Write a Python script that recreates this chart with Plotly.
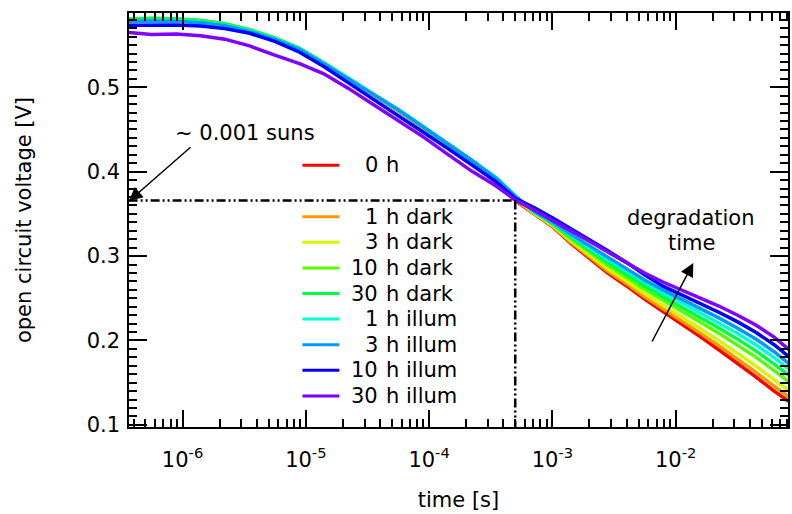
import plotly.graph_objects as go

# Transient open-circuit voltage decay after degradation
time_s = [3.65e-7, 5.6e-7, 8.9e-7, 1.4e-6, 2.2e-6, 3.5e-6, 5.6e-6, 8.9e-6,
          1.4e-5, 2.2e-5, 3.5e-5, 5.6e-5, 8.9e-5, 1.4e-4, 2.2e-4, 3.5e-4,
          5.0e-4, 7.1e-4, 1.0e-3, 1.4e-3, 2.0e-3, 2.8e-3, 4.0e-3, 5.6e-3,
          7.9e-3, 1.12e-2, 1.58e-2, 2.24e-2, 3.16e-2, 4.47e-2, 6.3e-2, 8.4e-2]

voc_0h = [0.5795, 0.5805, 0.5800, 0.5780, 0.5740, 0.5672, 0.5575, 0.5452,
          0.5282, 0.5100, 0.4908, 0.4722, 0.4518, 0.4318, 0.4115, 0.3875,
          0.3660, 0.3500, 0.3350, 0.3155, 0.2966, 0.2800, 0.2646, 0.2490,
          0.2344, 0.2200, 0.2046, 0.1890, 0.1736, 0.1570, 0.1400, 0.1271]
voc_1h_dark = [0.5798, 0.5808, 0.5803, 0.5783, 0.5743, 0.5675, 0.5578, 0.5455,
               0.5285, 0.5103, 0.4911, 0.4725, 0.4522, 0.4322, 0.4120, 0.3885,
               0.3675, 0.3504, 0.3357, 0.3168, 0.2985, 0.2823, 0.2671, 0.2518,
               0.2375, 0.2236, 0.2087, 0.1937, 0.1787, 0.1625, 0.1458, 0.1326]
voc_3h_dark = [0.5800, 0.5810, 0.5805, 0.5786, 0.5746, 0.5678, 0.5580, 0.5458,
               0.5288, 0.5106, 0.4913, 0.4728, 0.4525, 0.4326, 0.4125, 0.3895,
               0.3685, 0.3509, 0.3366, 0.3185, 0.3010, 0.2853, 0.2704, 0.2555,
               0.2417, 0.2284, 0.2142, 0.1999, 0.1855, 0.1699, 0.1534, 0.1400]
voc_10h_dark = [0.5808, 0.5818, 0.5812, 0.5792, 0.5750, 0.5680, 0.5583, 0.5460,
                0.5290, 0.5108, 0.4915, 0.4732, 0.4530, 0.4333, 0.4135, 0.3915,
                0.3700, 0.3517, 0.3379, 0.3210, 0.3045, 0.2895, 0.2750, 0.2608,
                0.2477, 0.2351, 0.2220, 0.2087, 0.1951, 0.1803, 0.1643, 0.1505]
voc_30h_dark = [0.5805, 0.5815, 0.5810, 0.5790, 0.5752, 0.5682, 0.5585, 0.5462,
                0.5292, 0.5110, 0.4918, 0.4735, 0.4532, 0.4335, 0.4138, 0.3920,
                0.3708, 0.3523, 0.3388, 0.3228, 0.3071, 0.2925, 0.2783, 0.2645,
                0.2519, 0.2399, 0.2275, 0.2149, 0.2019, 0.1877, 0.1720, 0.1579]
voc_1h_illum = [0.5785, 0.5792, 0.5790, 0.5772, 0.5735, 0.5668, 0.5574, 0.5455,
                0.5288, 0.5110, 0.4922, 0.4740, 0.4540, 0.4342, 0.4145, 0.3930,
                0.3715, 0.3528, 0.3397, 0.3245, 0.3096, 0.2955, 0.2816, 0.2682,
                0.2560, 0.2447, 0.2329, 0.2211, 0.2087, 0.1950, 0.1797, 0.1652]
voc_3h_illum = [0.5778, 0.5785, 0.5782, 0.5765, 0.5728, 0.5660, 0.5566, 0.5448,
                0.5280, 0.5103, 0.4915, 0.4733, 0.4533, 0.4336, 0.4139, 0.3922,
                0.3708, 0.3533, 0.3405, 0.3261, 0.3119, 0.2983, 0.2846, 0.2716,
                0.2599, 0.2491, 0.2380, 0.2268, 0.2149, 0.2017, 0.1867, 0.1720]
voc_10h_illum = [0.5735, 0.5740, 0.5738, 0.5725, 0.5695, 0.5640, 0.5545, 0.5415,
                 0.5245, 0.5055, 0.4860, 0.4675, 0.4475, 0.4280, 0.4085, 0.3880,
                 0.3685, 0.3575, 0.3455, 0.3330, 0.3200, 0.3065, 0.2925, 0.2777,
                 0.2644, 0.2542, 0.2439, 0.2335, 0.2223, 0.2097, 0.1950, 0.1800]
voc_30h_illum = [0.5650, 0.5625, 0.5630, 0.5610, 0.5570, 0.5490, 0.5380, 0.5280,
                 0.5160, 0.4990, 0.4800, 0.4605, 0.4415, 0.4210, 0.4010, 0.3830,
                 0.3665, 0.3545, 0.3425, 0.3300, 0.3175, 0.3050, 0.2920, 0.2800,
                 0.2693, 0.2598, 0.2503, 0.2408, 0.2302, 0.2183, 0.2040, 0.1886]

series_names = ["0 h", "1 h dark", "3 h dark", "10 h dark", "30 h dark",
                "1 h illum", "3 h illum", "10 h illum", "30 h illum"]
series_values = [voc_0h, voc_1h_dark, voc_3h_dark, voc_10h_dark, voc_30h_dark,
                 voc_1h_illum, voc_3h_illum, voc_10h_illum, voc_30h_illum]
series_colors = ["#FF0000", "#FF9900", "#D7F500", "#55FF00", "#00FF40",
                 "#00FFD5", "#0099FF", "#0000FF", "#8000FF"]

# reference level: ~0.001 suns
t_ref = 5.0e-4
v_ref = 0.366

x_tick_vals = [1e-6, 1e-5, 1e-4, 1e-3, 1e-2]
x_tick_text = ["10<sup>-6</sup>", "10<sup>-5</sup>", "10<sup>-4</sup>",
               "10<sup>-3</sup>", "10<sup>-2</sup>"]

FONT = "DejaVu Sans"
W, H = 792, 514
ML, MR, MT, MB = 129, 2, 13, 87


def px(x):
    return (x - ML) / (W - ML - MR)


def py(y):
    return (H - MB - y) / (H - MT - MB)


fig = go.Figure()

for name, vals, col in zip(series_names, series_values, series_colors):
    fig.add_trace(go.Scatter(x=time_s, y=vals, mode="lines", name=name,
                             line=dict(color=col, width=3.5)))

dash_style = "9px,3px,2px,3px,2px,3px"
fig.add_trace(go.Scatter(x=[time_s[0], t_ref], y=[v_ref, v_ref], mode="lines",
                         line=dict(color="black", width=2.5, dash=dash_style)))
fig.add_trace(go.Scatter(x=[t_ref, t_ref], y=[v_ref, 0.05], mode="lines",
                         line=dict(color="black", width=2.5, dash=dash_style)))

annotations = []
shapes = []

# hand-built legend: colour swatch, right-aligned number, then the label
row_y = [165.3] + [216.7 + 25.6 * k for k in range(8)]
for name, col, yy in zip(series_names, series_colors, row_y):
    num, rest = name.split(" ", 1)
    shapes.append(dict(type="line", xref="paper", yref="paper",
                       x0=px(303), x1=px(340), y0=py(yy), y1=py(yy),
                       line=dict(color=col, width=3)))
    annotations.append(dict(xref="paper", yref="paper", x=px(381), y=py(yy),
                            text=num, showarrow=False, xanchor="right",
                            yanchor="middle", font=dict(size=21)))
    annotations.append(dict(xref="paper", yref="paper", x=px(385), y=py(yy),
                            text=rest, showarrow=False, xanchor="left",
                            yanchor="middle", font=dict(size=21)))

annotations.append(dict(xref="paper", yref="paper", x=px(245), y=py(133),
                        text="~ 0.001 suns", showarrow=False,
                        xanchor="center", yanchor="middle", font=dict(size=21)))
annotations.append(dict(xref="paper", yref="paper", x=px(129), y=py(201),
                        text="", showarrow=True, ax=63, ay=-55,
                        arrowhead=2, arrowsize=1.8, arrowwidth=1.5,
                        arrowcolor="black", standoff=0))
annotations.append(dict(xref="paper", yref="paper", x=px(693), y=py(218),
                        text="degradation", showarrow=False,
                        xanchor="center", yanchor="middle", font=dict(size=21)))
annotations.append(dict(xref="paper", yref="paper", x=px(693), y=py(243),
                        text="time", showarrow=False,
                        xanchor="center", yanchor="middle", font=dict(size=21)))
annotations.append(dict(xref="paper", yref="paper", x=px(695), y=py(263),
                        text="", showarrow=True, ax=-42, ay=80,
                        arrowhead=2, arrowsize=1.8, arrowwidth=1.5,
                        arrowcolor="black", standoff=0))

minor_x = [m * 10.0 ** e for e in range(-7, -1) for m in range(2, 10)]

fig.update_layout(
    width=W, height=H,
    margin=dict(l=ML, r=MR, t=MT, b=MB),
    paper_bgcolor="white", plot_bgcolor="white",
    showlegend=False,
    font=dict(family=FONT, size=21, color="black"),
    annotations=annotations,
    shapes=shapes,
    xaxis=dict(
        type="log", range=[-6.4345, -1.0882],
        showline=True, linecolor="black", linewidth=1.5, mirror="ticks",
        ticks="inside", ticklen=17, tickwidth=1.5, tickcolor="black",
        tickvals=x_tick_vals, ticktext=x_tick_text,
        ticklabelstandoff=13,
        minor=dict(ticks="inside", ticklen=8, tickwidth=1.5,
                   tickcolor="black", tickvals=minor_x, showgrid=False),
        showgrid=False, zeroline=False,
        title=dict(text="time [s]", standoff=21, font=dict(size=21)),
    ),
    yaxis=dict(
        range=[0.0975, 0.588],
        showline=True, linecolor="black", linewidth=1.5, mirror="ticks",
        ticks="inside", ticklen=18, tickwidth=1.5, tickcolor="black",
        tick0=0, dtick=0.1, tickformat=".1f",
        ticklabelstandoff=3,
        minor=dict(ticks="inside", ticklen=8, tickwidth=1.5,
                   tickcolor="black", dtick=0.01, showgrid=False),
        showgrid=False, zeroline=False,
        title=dict(text="open circuit voltage [V]", standoff=49,
                   font=dict(size=21)),
    ),
)

fig.write_html("out.html")
